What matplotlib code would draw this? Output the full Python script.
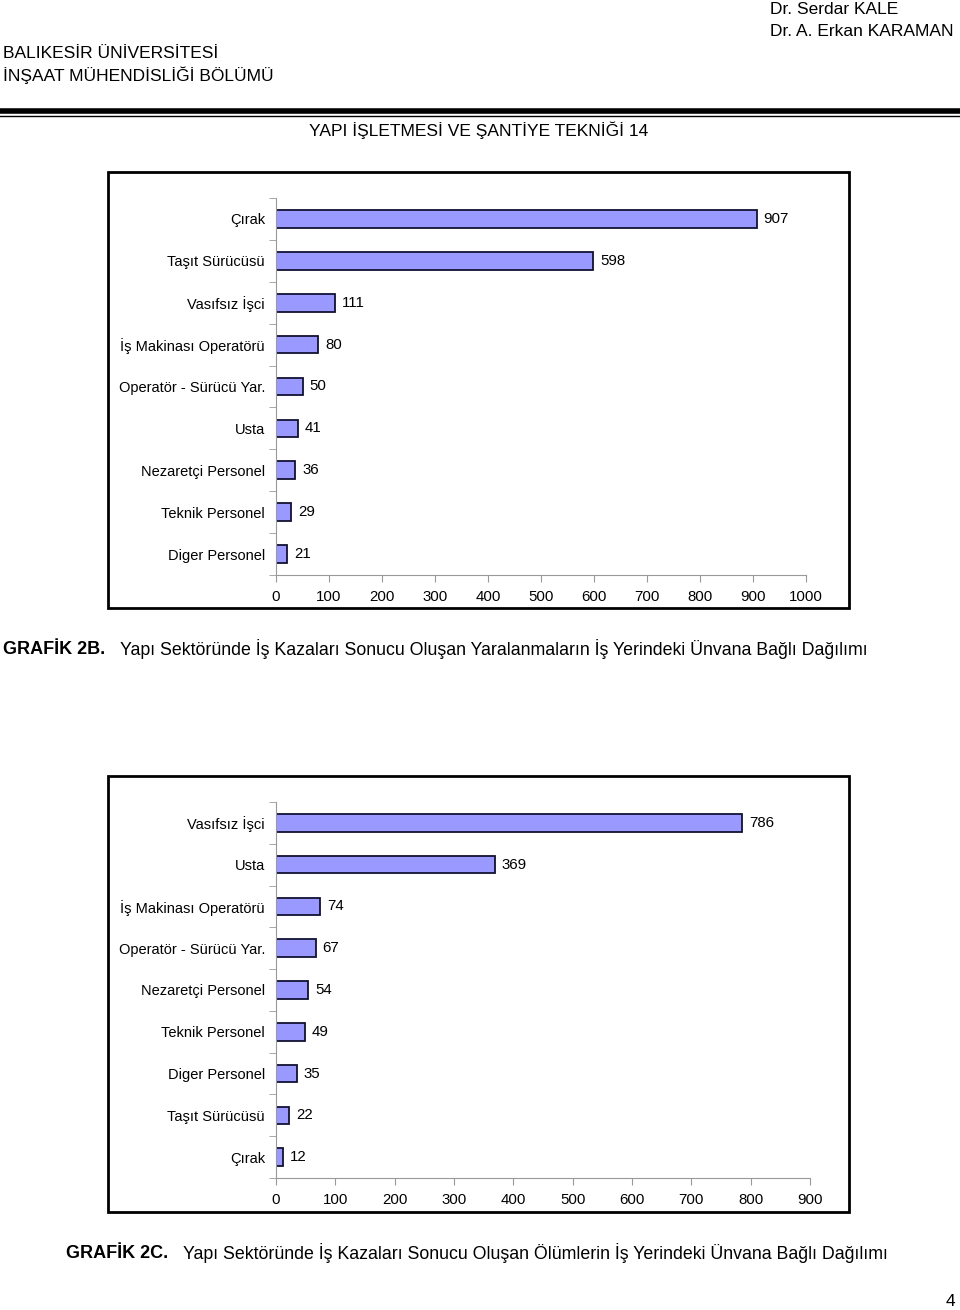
import matplotlib.pyplot as plt
from matplotlib.patches import Rectangle
from matplotlib.lines import Line2D

# Grafik 2B - yaralanmalar
cats_2b = ['Çırak', 'Taşıt Sürücüsü', 'Vasıfsız İşci', 'İş Makinası Operatörü',
           'Operatör - Sürücü Yar.', 'Usta', 'Nezaretçi Personel',
           'Teknik Personel', 'Diger Personel']
vals_2b = [907, 598, 111, 80, 50, 41, 36, 29, 21]
ticks_2b = [0, 100, 200, 300, 400, 500, 600, 700, 800, 900, 1000]

# Grafik 2C - ölümler
cats_2c = ['Vasıfsız İşci', 'Usta', 'İş Makinası Operatörü',
           'Operatör - Sürücü Yar.', 'Nezaretçi Personel', 'Teknik Personel',
           'Diger Personel', 'Taşıt Sürücüsü', 'Çırak']
vals_2c = [786, 369, 74, 67, 54, 49, 35, 22, 12]
ticks_2c = [0, 100, 200, 300, 400, 500, 600, 700, 800, 900]

W, H = 960, 1310
plt.rcParams['font.family'] = ['Liberation Sans', 'DejaVu Sans']
fig = plt.figure(figsize=(W / 100, H / 100), dpi=100)


def px_axes(x0, y0, x1, y1):
    return fig.add_axes([x0 / W, 1 - y1 / H, (x1 - x0) / W, (y1 - y0) / H])


def ftext(x, y, s, **kw):
    fig.text(x / W, 1 - y / H, s, **kw)


def bar_chart(box, area, cats, vals, ticks):
    bx0, by0, bx1, by1 = box
    fig.patches.append(Rectangle((bx0 / W, 1 - by1 / H), (bx1 - bx0) / W, (by1 - by0) / H,
                                 transform=fig.transFigure, fill=False,
                                 edgecolor='black', linewidth=2))
    ax = px_axes(*area)
    pos = list(range(len(cats)))
    bars = ax.barh(pos, vals, height=0.42, color='#9999FF', edgecolor='#111133', linewidth=1.3)
    ax.bar_label(bars, labels=[str(v) for v in vals], padding=5, fontsize=10.8)
    ax.set_ylim(len(cats) - 0.5, -0.5)
    ax.set_xlim(ticks[0], ticks[-1])
    ax.set_yticks(pos)
    ax.set_yticklabels(cats, fontsize=10.5)
    ax.set_yticks([p - 0.5 for p in pos] + [len(cats) - 0.5], minor=True)
    ax.tick_params(axis='y', which='major', length=0, pad=8)
    ax.tick_params(axis='y', which='minor', length=5, color='#999999')
    ax.set_xticks(ticks)
    ax.set_xticklabels([str(t) for t in ticks], fontsize=10.8)
    ax.tick_params(axis='x', length=5, color='#999999', pad=6)
    for s in ['top', 'right']:
        ax.spines[s].set_visible(False)
    for s in ['left', 'bottom']:
        ax.spines[s].set_color('#999999')
    return ax


bar_chart((108, 172, 849, 608), (276, 198, 806, 575), cats_2b, vals_2b, ticks_2b)
bar_chart((108, 776, 849, 1212), (276, 802, 810, 1178), cats_2c, vals_2c, ticks_2c)

# header
ftext(770, 10, 'Dr. Serdar KALE', fontsize=12.5, va='center', ha='left')
ftext(770, 32, 'Dr. A. Erkan KARAMAN', fontsize=12.5, va='center', ha='left')
ftext(3, 53, 'BALIKESİR ÜNİVERSİTESİ', fontsize=12.5, va='center', ha='left')
ftext(3, 75, 'İNŞAAT MÜHENDİSLİĞİ BÖLÜMÜ', fontsize=12.5, va='center', ha='left')
fig.add_artist(Line2D([0, 1], [1 - 110.5 / H] * 2, color='black', linewidth=4))
fig.add_artist(Line2D([0, 1], [1 - 116 / H] * 2, color='black', linewidth=1))
ftext(479, 130, 'YAPI İŞLETMESİ VE ŞANTİYE TEKNİĞİ 14', fontsize=12.5, va='center', ha='center')

# captions
ftext(3, 649, 'GRAFİK 2B.', fontsize=13, fontweight='bold', va='center', ha='left')
ftext(120, 649, 'Yapı Sektöründe İş Kazaları Sonucu Oluşan Yaralanmaların İş Yerindeki Ünvana Bağlı Dağılımı',
      fontsize=12.8, va='center', ha='left')
ftext(66, 1253, 'GRAFİK 2C.', fontsize=13, fontweight='bold', va='center', ha='left')
ftext(183, 1253, 'Yapı Sektöründe İş Kazaları Sonucu Oluşan Ölümlerin İş Yerindeki Ünvana Bağlı Dağılımı',
      fontsize=12.8, va='center', ha='left')
ftext(955, 1302, '4', fontsize=12.5, va='center', ha='right')

fig.savefig('out.png', dpi=100)
